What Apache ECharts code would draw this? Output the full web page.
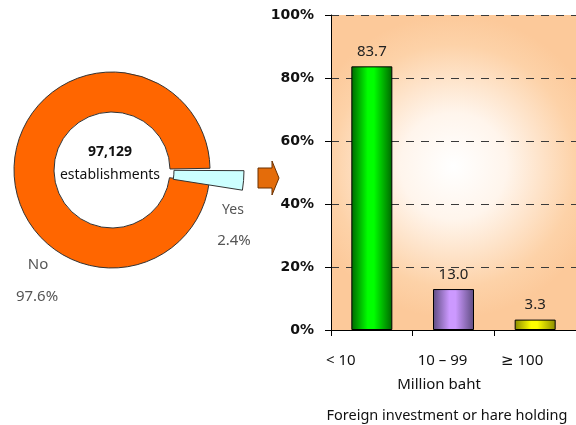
<!DOCTYPE html>
<html>
<head>
<meta charset="utf-8">
<script src="https://cdn.jsdelivr.net/npm/echarts@6/dist/echarts.min.js"></script>
<style>
html,body{margin:0;padding:0;background:#fff;}
#c{width:576px;height:425px;}
</style>
</head>
<body>
<div id="c"></div>
<script>
// ---- data ----
const pieCategories = ['Yes', 'No'];
const pieValues = [2.4, 97.6];
const pieTotalLabel = '97,129';
const pieTotalUnit = 'establishments';

const barCategories = ['< 10', '10 – 99', '≥ 100'];
const barValues = [83.7, 13.0, 3.3];
const xAxisTitle = 'Million baht';
const chartTitle = 'Foreign investment or hare holding';

// ---- styles ----
const FONT = '"Noto Sans", "DejaVu Sans", sans-serif';
const FONT_B = '"DejaVu Sans", "Noto Sans", sans-serif';
function hGrad(edge, mid) {
  return {type:'linear', x:0, y:0, x2:1, y2:0, colorStops:[
    {offset:0, color:edge},{offset:0.4, color:mid},{offset:0.55, color:mid},{offset:1, color:edge}]};
}
const barColors = [hGrad('#006600', '#00FF00'), hGrad('#5E4C80', '#CC99FF'), hGrad('#8A8A00', '#FFFF00')];
const labelShift = [62, 22, 26];

const chart = echarts.init(document.getElementById('c'), null, {renderer:'canvas'});

const rich = {};
labelShift.forEach((p, i) => { rich['l' + i] = {padding:[0, p, 0, 0], fontFamily:FONT, fontSize:15, color:'#111'}; });

const option = {
  animation:false,
  backgroundColor:'#fff',
  grid:{left:331, top:15, width:248, height:315, show:true, borderWidth:0,
    backgroundColor:{type:'radial', x:0.5, y:0.48, r:0.62, colorStops:[
      {offset:0, color:'#FFFFFF'},{offset:0.35, color:'#FFF5EC'},{offset:0.8, color:'#FDD2A8'},{offset:1, color:'#FCC99A'}]}},
  xAxis:{type:'category', data:barCategories,
    axisLine:{lineStyle:{color:'#000', width:1}},
    axisTick:{show:true, length:6, lineStyle:{color:'#000'}},
    axisLabel:{margin:23, formatter:(v, i) => `{l${i}|${v}}`, rich:rich}},
  yAxis:{type:'value', min:0, max:100, interval:20,
    axisLine:{show:true, lineStyle:{color:'#000', width:1}},
    axisTick:{show:true, length:6, lineStyle:{color:'#000'}},
    axisLabel:{formatter:'{value}%', margin:17, fontFamily:FONT_B, fontSize:14, fontWeight:'bold', color:'#111'},
    splitLine:{show:true, lineStyle:{color:'#3a3a3a', type:[8,7], width:1.2}}},
  series:[
    {type:'bar', data:barValues.map((v, i) => ({value:v, itemStyle:{color:barColors[i]}})),
      barWidth:41,
      itemStyle:{borderColor:'#000', borderWidth:1},
      label:{show:true, position:'top', distance:7, fontFamily:FONT, fontSize:15, color:'#222',
        formatter:p => p.value.toFixed(1)}},
    {type:'pie', center:[112,170], radius:[58,98], startAngle:1, clockwise:true,
      label:{show:false}, labelLine:{show:false}, silent:true,
      data:pieValues.map((v, i) => ({name:pieCategories[i], value:v,
        itemStyle: pieCategories[i] === 'No' ? {color:'#FF6600', borderColor:'#333', borderWidth:1}
                                             : {color:'rgba(0,0,0,0)', borderWidth:0}}))},
    {type:'pie', center:[114,170], radius:[60,130], startAngle:-0.3, clockwise:true,
      label:{show:false}, labelLine:{show:false}, silent:true,
      data:pieValues.map((v, i) => ({name:pieCategories[i], value:v,
        itemStyle: pieCategories[i] === 'Yes' ? {color:'#CCFFFF', borderColor:'#333', borderWidth:1}
                                              : {color:'rgba(0,0,0,0)', borderWidth:0}}))}
  ],
  graphic:[
    {type:'text', x:110, y:152, style:{text:pieTotalLabel, fontFamily:FONT, fontSize:14, fontWeight:'bold', fill:'#111', align:'center', verticalAlign:'middle'}},
    {type:'text', x:110, y:175, style:{text:pieTotalUnit, fontFamily:FONT, fontSize:14, fill:'#111', align:'center', verticalAlign:'middle'}},
    {type:'text', x:233, y:210, style:{text:pieCategories[0], fontFamily:FONT, fontSize:14, fill:'#555', align:'center', verticalAlign:'middle'}},
    {type:'text', x:234, y:241, style:{text:pieValues[0].toFixed(1) + '%', fontFamily:FONT, fontSize:15, fill:'#555', align:'center', verticalAlign:'middle'}},
    {type:'text', x:38, y:265, style:{text:pieCategories[1], fontFamily:FONT, fontSize:15, fill:'#555', align:'center', verticalAlign:'middle'}},
    {type:'text', x:37, y:297, style:{text:pieValues[1].toFixed(1) + '%', fontFamily:FONT, fontSize:15, fill:'#555', align:'center', verticalAlign:'middle'}},
    {type:'polygon', shape:{points:[[258,168],[272,168],[272,161],[279,178],[272,195],[272,188],[258,188]]},
      style:{fill:'#E46C0A', stroke:'#6B3000', lineWidth:1}},
    {type:'text', x:439, y:385, style:{text:xAxisTitle, fontFamily:FONT, fontSize:15, fill:'#111', align:'center', verticalAlign:'middle'}},
    {type:'text', x:447, y:416, style:{text:chartTitle, fontFamily:FONT, fontSize:14.5, fill:'#111', align:'center', verticalAlign:'middle'}}
  ]
};
chart.setOption(option);
</script>
</body>
</html>
